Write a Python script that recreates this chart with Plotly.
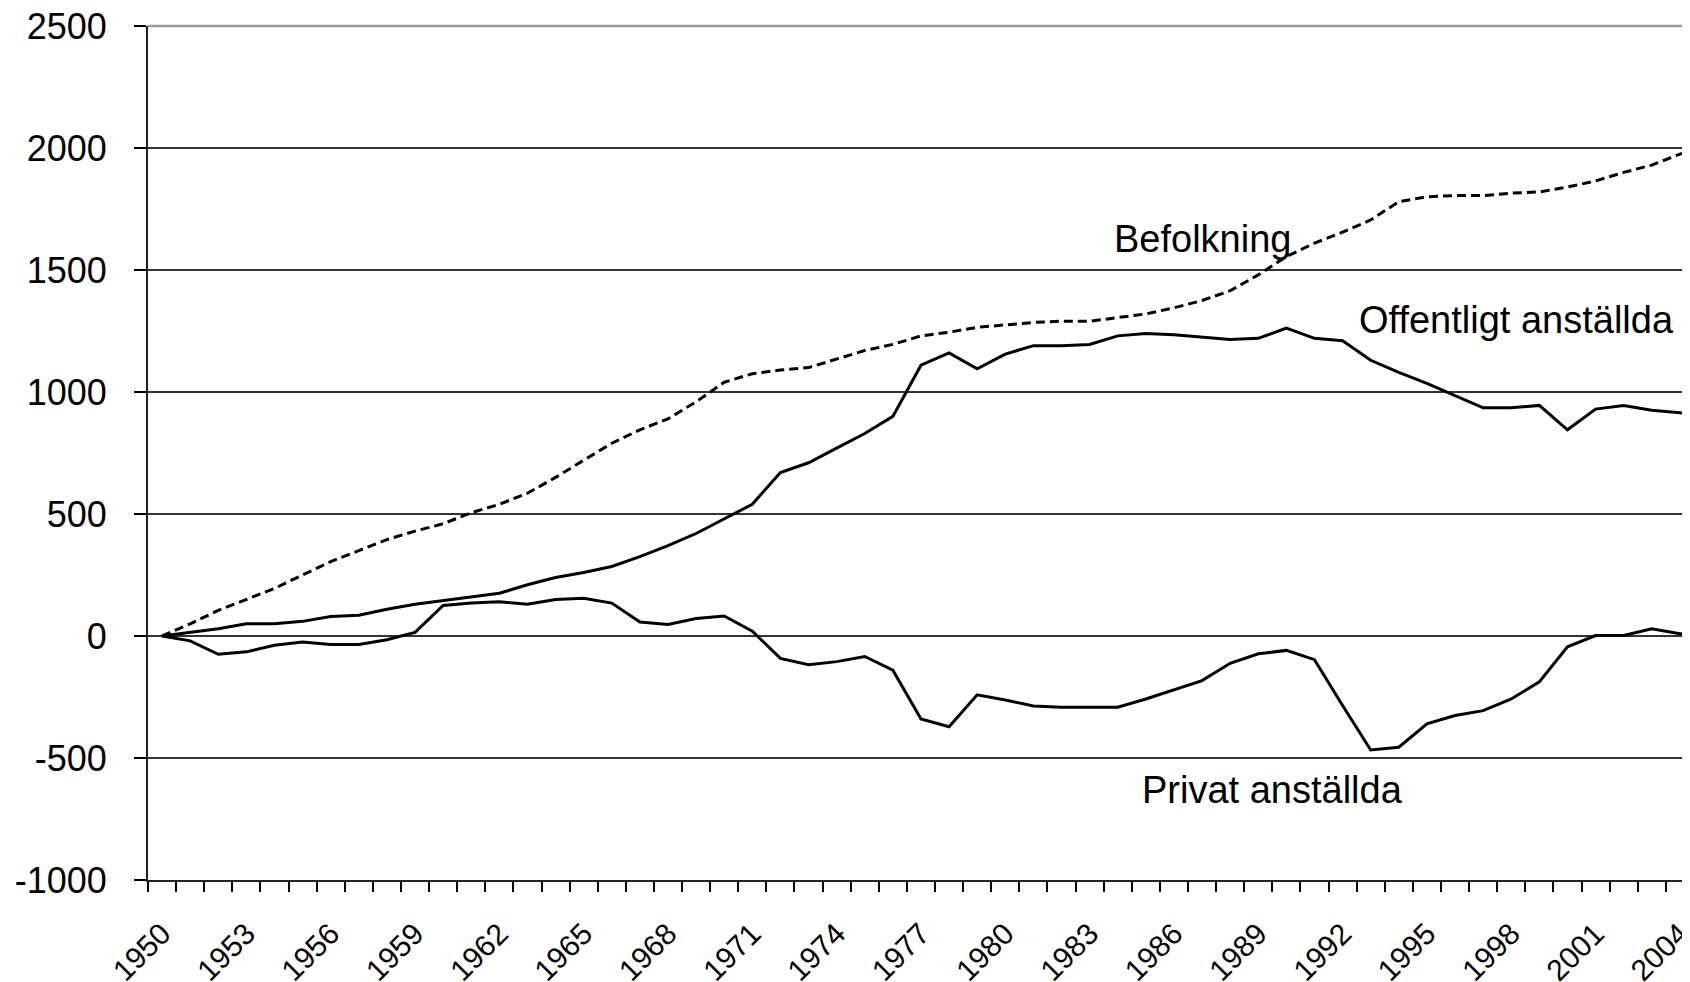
import plotly.graph_objects as go

# Förändring sedan 1950, tusental
years = list(range(1950, 2006))

befolkning = [
    0, 50, 105, 150, 195, 250, 305, 350, 395, 430,
    460, 505, 540, 585, 650, 720, 790, 845, 890, 960,
    1040, 1075, 1090, 1100, 1135, 1170, 1195, 1230, 1245, 1265,
    1275, 1285, 1290, 1290, 1305, 1320, 1345, 1375, 1415, 1480,
    1555, 1610, 1655, 1705, 1780, 1800, 1805, 1805, 1815, 1820,
    1840, 1865, 1900, 1930, 1975, 2010,
]

offentligt = [
    0, 15, 30, 50, 50, 60, 80, 85, 110, 130,
    145, 160, 175, 210, 240, 260, 285, 325, 370, 420,
    480, 540, 670, 710, 770, 830, 900, 1110, 1160, 1095,
    1155, 1190, 1190, 1195, 1230, 1240, 1235, 1225, 1215, 1220,
    1262, 1220, 1210, 1130, 1080, 1035, 985, 935, 935, 945,
    845, 930, 945, 925, 915, 905,
]

privat = [
    0, -20, -75, -65, -38, -25, -35, -35, -15, 15,
    125, 135, 140, 130, 150, 155, 135, 57, 47, 72,
    82, 20, -92, -118, -105, -84, -140, -340, -372, -241,
    -262, -287, -292, -292, -292, -258, -221, -183, -112, -73,
    -59, -97, -285, -467, -456, -360, -326, -306, -258, -188,
    -44, 2, 2, 30, 9, 25,
]

tick_years = [1950, 1953, 1956, 1959, 1962, 1965, 1968, 1971, 1974,
              1977, 1980, 1983, 1986, 1989, 1992, 1995, 1998, 2001, 2004]
y_ticks = [-1000, -500, 0, 500, 1000, 1500, 2000, 2500]

FONT = "Liberation Sans, Arial, sans-serif"

fig = go.Figure()

fig.add_trace(go.Scatter(
    x=years, y=befolkning, mode="lines", name="Befolkning",
    line=dict(color="black", width=3, dash="9px,5px"),
))
fig.add_trace(go.Scatter(
    x=years, y=offentligt, mode="lines", name="Offentligt anställda",
    line=dict(color="black", width=3),
))
fig.add_trace(go.Scatter(
    x=years, y=privat, mode="lines", name="Privat anställda",
    line=dict(color="black", width=3),
))

# etiketter direkt i diagrammet
labels = [
    ("Befolkning", 1987.0, 1628),
    ("Offentligt anställda", 1998.2, 1295),
    ("Privat anställda", 1989.5, -630),
]
for text, x, y in labels:
    fig.add_annotation(
        x=x, y=y, text=text, showarrow=False,
        xanchor="center", yanchor="middle",
        font=dict(family=FONT, size=38, color="black"),
    )

# sidans body har 8 px marginal, därför lite mindre marginaler här
fig.update_layout(
    width=1682,
    height=982,
    showlegend=False,
    plot_bgcolor="white",
    paper_bgcolor="white",
    margin=dict(l=140, r=0, t=18, b=110),
    font=dict(family=FONT, color="black"),
    xaxis=dict(
        range=[1949.5, 2004.36],
        automargin=False,
        tickmode="array",
        tickvals=tick_years,
        ticktext=[str(t) for t in tick_years],
        tickangle=-45,
        tickfont=dict(size=30),
        ticklabeloverflow="allow",
        ticks="outside",
        ticklen=10,
        tickcolor="rgba(0,0,0,0)",
        ticklabelstandoff=12,
        minor=dict(
            tick0=1949.5, dtick=1, ticks="outside",
            ticklen=10, tickwidth=1.5, tickcolor="black", showgrid=False,
        ),
        showgrid=False,
        zeroline=False,
        showline=True,
        linecolor="#222",
        linewidth=2,
    ),
    yaxis=dict(
        range=[-1000, 2500],
        automargin=False,
        tickmode="array",
        tickvals=y_ticks,
        ticktext=[str(v) for v in y_ticks],  # vanligt bindestreck som minus
        tickfont=dict(size=36),
        ticklabeloverflow="allow",
        ticks="outside",
        ticklen=12,
        tickwidth=1.5,
        tickcolor="black",
        ticklabelstandoff=20,
        showgrid=True,
        gridcolor="#333",
        gridwidth=1.5,
        zeroline=False,
        showline=True,
        linecolor="#222",
        linewidth=2,
    ),
)

# ram överst i grått
fig.add_shape(
    type="line", xref="paper", yref="paper",
    x0=0, x1=1, y0=1, y1=1,
    line=dict(color="#9a9a9a", width=2.5),
)

fig.write_html("out.html")
